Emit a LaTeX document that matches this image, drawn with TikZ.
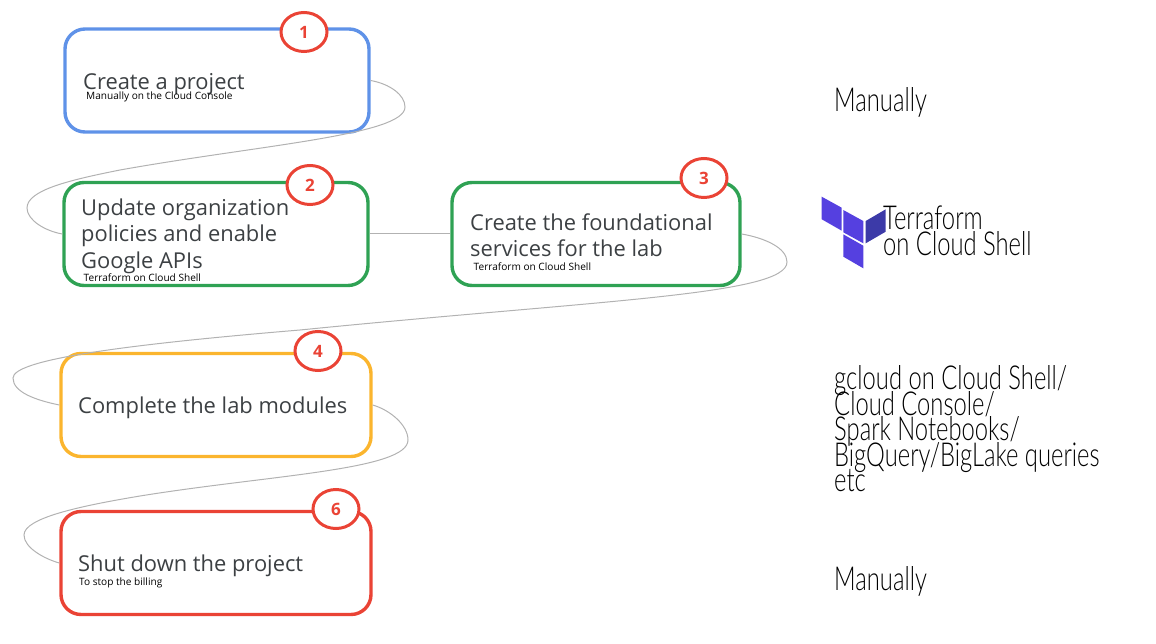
\documentclass[tikz,border=0pt]{standalone}
\usepackage{fontspec}
\setmainfont{Open Sans}
\newfontfamily\handfont[FakeStretch=0.72]{Lato Light}
\usetikzlibrary{shapes.geometric}
\definecolor{gblue}{HTML}{5F92E8}
\definecolor{ggreen}{HTML}{2FA254}
\definecolor{gyellow}{HTML}{FBB52E}
\definecolor{gred}{HTML}{EA4335}
\definecolor{gtext}{HTML}{3C4043}
\definecolor{tfmain}{HTML}{5540E0}
\definecolor{tfdark}{HTML}{3C3AA8}
\newcommand{\tightlines}{\lineskiplimit=-100pt\relax}
\tikzset{
    stepbox/.style={draw, rounded corners=20pt, line width=3.4pt, minimum height=103pt},
    stepnum/.style={ellipse, draw=gred, fill=white, line width=3pt, minimum width=46pt, minimum height=39pt, inner sep=0pt, text=gred, font=\fontsize{17}{19}\selectfont\bfseries},
    steptext/.style={anchor=west, inner sep=0pt, align=left, text=gtext, font=\fontsize{21.9}{26.5}\selectfont\tightlines},
    subtext/.style={anchor=west, inner sep=0pt, text=black, font=\fontsize{10.1}{12}\selectfont},
    handtext/.style={anchor=west, inner sep=0pt, align=left, font=\handfont\fontsize{33}{25.5}\selectfont\tightlines},
    link/.style={draw=black!30, line width=1pt}
}
\begin{document}
\begin{tikzpicture}[x=1pt,y=1pt]
        \useasboundingbox (0,0) rectangle (1156,-644);
        \node [stepbox, draw=gblue, minimum width=304pt] (A) at (217,-80.5) {};
        \node [stepbox, draw=ggreen, minimum width=304pt] (B) at (216,-234) {};
        \node [stepbox, draw=ggreen, minimum width=288pt] (C) at (596,-234) {};
        \node [stepbox, draw=gyellow, minimum width=310pt] (D) at (216,-405) {};
        \node [stepbox, draw=gred, minimum width=310pt] (F) at (216,-563) {};
        \draw [link] (A.east) .. controls (390,-84) and (405,-95) .. (405,-107) .. controls (405,-135) and (260,-145) .. (120,-170) .. controls (70,-180) and (27,-190) .. (27,-208) .. controls (27,-220) and (45,-231) .. (B.west);
        \draw [link] (B.east) -- (C.west);
        \draw [link] (C.east) .. controls (765,-238) and (787,-248) .. (787,-262) .. controls (787,-295) and (600,-300) .. (300,-330) .. controls (120,-345) and (13,-360) .. (13,-378) .. controls (13,-392) and (35,-400) .. (D.west);
        \draw [link] (D.east) .. controls (390,-410) and (408,-425) .. (408,-440) .. controls (408,-470) and (270,-475) .. (140,-496) .. controls (80,-506) and (24,-518) .. (24,-535) .. controls (24,-548) and (45,-559) .. (F.west);
        \node [stepnum] (n1) at (304,-32) {1};
        \node [stepnum] (n2) at (310,-185) {2};
        \node [stepnum] (n3) at (704,-178) {3};
        \node [stepnum] (n4) at (318,-351) {4};
        \node [stepnum] (n6) at (336,-509) {6};
        \node [steptext] (ta) at (83,-84) {Create a project};
        \node [subtext] (sa) at (86,-97) {Manually on the Cloud Console};
        \node [steptext] (tb) at (81,-236) {Update organization\\policies and enable\\Google APIs};
        \node [subtext] (sb) at (83.5,-278) {Terraform on Cloud Shell};
        \node [steptext] (tc) at (470,-235) {Create the foundational\\services for the lab};
        \node [subtext] (sc) at (473.5,-267) {Terraform on Cloud Shell};
        \node [steptext] (td) at (78,-408) {Complete the lab modules};
        \node [steptext] (tf) at (78,-566) {Shut down the project};
        \node [subtext] (sf) at (79,-582.5) {To stop the billing};
        \node [handtext] (ha) at (834,-102) {Manually};
        \node [handtext] (hb) at (883,-231) {Terraform\\on Cloud Shell};
        \node [handtext] (hc) at (834,-429) {gcloud on Cloud Shell/\\Cloud Console/\\Spark Notebooks/\\BigQuery/BigLake queries\\etc};
        \node [handtext] (hd) at (834,-581) {Manually};
        \fill [tfmain] (821.7,-196.7) -- (841.7,-207.7) -- (841.7,-230.7) -- (821.7,-219.3) -- cycle;
        \fill [tfmain] (843.3,-210) -- (863.3,-221) -- (863.3,-243.3) -- (843.3,-232.3) -- cycle;
        \fill [tfmain] (843.3,-234.3) -- (863.3,-245.7) -- (863.3,-268.3) -- (843.3,-256.7) -- cycle;
        \fill [tfdark] (865.7,-221) -- (885.7,-209.3) -- (885.7,-231.7) -- (865.7,-243.3) -- cycle;
    \end{tikzpicture}
\end{document}
